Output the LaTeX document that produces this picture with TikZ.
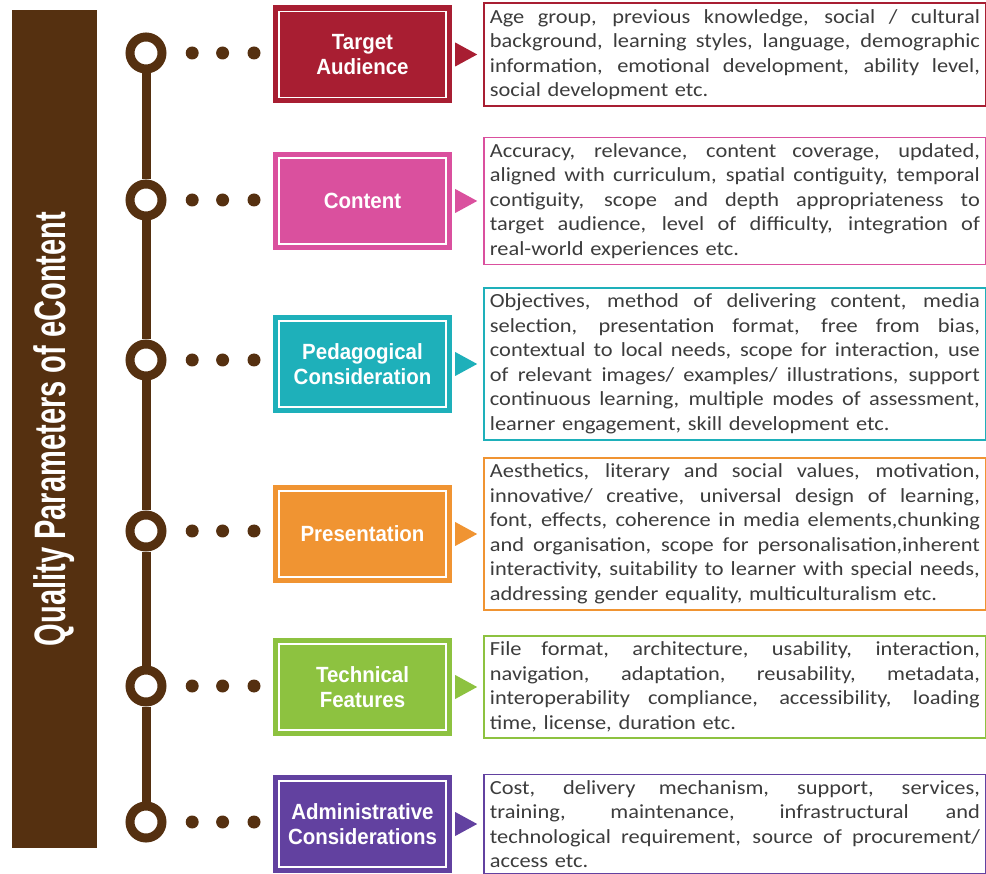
\documentclass[tikz,border=0pt]{standalone}
\usepackage{fontspec}
\setmainfont{Carlito}
\usetikzlibrary{positioning}
\newfontfamily\bodyfont[FakeStretch=1.12]{Carlito}
\newfontfamily\labelfont[FakeStretch=0.93]{Liberation Sans}
\newfontfamily\titlefont[FakeStretch=0.66]{Liberation Sans}
\definecolor{qbrown}{RGB}{85,48,16}
\definecolor{qred}{RGB}{168,30,50}
\definecolor{qpink}{RGB}{218,80,158}
\definecolor{qteal}{RGB}{30,176,186}
\definecolor{qorange}{RGB}{240,148,50}
\definecolor{qgreen}{RGB}{141,194,64}
\definecolor{qpurple}{RGB}{98,65,160}
\definecolor{qtext}{RGB}{60,60,60}
% one justified line, and the last (ragged) line of a description
\newcommand{\fline}[1]{\hbox to\hsize{\spaceskip=\fontdimen2\font plus 1fil\xspaceskip=\spaceskip\relax #1}}
\newcommand{\lline}[1]{\hbox to\hsize{#1\hfil}}
\tikzset{
  ring/.style={circle, draw=qbrown, fill=white, line width=9pt, minimum size=32pt, inner sep=0pt},
  stem/.style={draw=qbrown, line width=9pt},
  dot/.style={circle, fill=qbrown, minimum size=13pt, inner sep=0pt},
  qbox/.style={rectangle, fill=#1, minimum width=179pt, minimum height=98pt, inner sep=0pt,
    text=white, align=center, font=\labelfont\bfseries\fontsize{22}{25}\selectfont,
    path picture={\draw[white, line width=1.3pt]
      ([shift={(6pt,6pt)}]path picture bounding box.south west) rectangle
      ([shift={(-6pt,-6pt)}]path picture bounding box.north east);}},
  desc/.style={rectangle, draw=#1, line width=1.4pt, text width=490pt, inner xsep=6pt, inner ysep=6pt,
    text=qtext, font=\bodyfont\fontsize{20}{24.5}\selectfont, anchor=west}
}
\begin{document}
\begin{tikzpicture}[x=1pt, y=-1pt]
  \useasboundingbox (0,0) rectangle (986,874);

  %%%%% TITLE BAR %%%%%
  \node[fill=qbrown, minimum width=85pt, minimum height=838pt, inner sep=0pt] (bar) at (54.5,429) {};
  \node[rotate=90, text=white, font=\titlefont\bfseries\fontsize{44}{48}\selectfont] (title) at (bar.center)
    {Quality Parameters of eContent};

  %%%%% RINGS AND STEM %%%%%
  \node[ring] (r1) at (146,53) {};
  \node[ring] (r2) at (146,200) {};
  \node[ring] (r3) at (146,360) {};
  \node[ring] (r4) at (146,531) {};
  \node[ring] (r5) at (146,686) {};
  \node[ring] (r6) at (146,822) {};
  \foreach \a/\b in {r1/r2,r2/r3,r3/r4,r4/r5,r5/r6}
    \draw[stem] (\a) -- (\b);
  \foreach \r in {r1,r2,r3,r4,r5,r6}{
    \node[dot, right=19pt of \r] (\r d1) {};
    \node[dot, right=17pt of \r d1] (\r d2) {};
    \node[dot, right=18pt of \r d2] (\r d3) {};
  }

  %%%%% TARGET AUDIENCE %%%%%
  \node[qbox=qred] (ta) at (362.5,54.5) {Target\\Audience};
  \fill[qred] ([xshift=3pt,yshift=12pt]ta.east) -- ([xshift=25pt]ta.east) -- ([xshift=3pt,yshift=-12pt]ta.east) -- cycle;
  \node[desc=qred, right=31pt of ta] (tad) {%
    \fline{Age group, previous knowledge, social / cultural}
    \fline{background, learning styles, language, demographic}
    \fline{information, emotional development, ability level,}
    \lline{social development etc.}};

  %%%%% CONTENT %%%%%
  \node[qbox=qpink] (co) at (362.5,201) {Content};
  \fill[qpink] ([xshift=3pt,yshift=12pt]co.east) -- ([xshift=25pt]co.east) -- ([xshift=3pt,yshift=-12pt]co.east) -- cycle;
  \node[desc=qpink, right=31pt of co] (cod) {%
    \fline{Accuracy, relevance, content coverage, updated,}
    \fline{aligned with curriculum, spatial contiguity, temporal}
    \fline{contiguity, scope and depth appropriateness to}
    \fline{target audience, level of difficulty, integration of}
    \lline{real-world experiences etc.}};

  %%%%% PEDAGOGICAL %%%%%
  \node[qbox=qteal] (pe) at (362.5,364) {Pedagogical\\Consideration};
  \fill[qteal] ([xshift=3pt,yshift=12pt]pe.east) -- ([xshift=25pt]pe.east) -- ([xshift=3pt,yshift=-12pt]pe.east) -- cycle;
  \node[desc=qteal, right=31pt of pe] (ped) {%
    \fline{Objectives, method of delivering content, media}
    \fline{selection, presentation format, free from bias,}
    \fline{contextual to local needs, scope for interaction, use}
    \fline{of relevant images/ examples/ illustrations, support}
    \fline{continuous learning, multiple modes of assessment,}
    \lline{learner engagement, skill development etc.}};

  %%%%% PRESENTATION %%%%%
  \node[qbox=qorange] (pr) at (362.5,534) {Presentation};
  \fill[qorange] ([xshift=3pt,yshift=12pt]pr.east) -- ([xshift=25pt]pr.east) -- ([xshift=3pt,yshift=-12pt]pr.east) -- cycle;
  \node[desc=qorange, right=31pt of pr] (prd) {%
    \fline{Aesthetics, literary and social values, motivation,}
    \fline{innovative/ creative, universal design of learning,}
    \fline{font, effects, coherence in media elements,chunking}
    \fline{and organisation, scope for personalisation,inherent}
    \fline{interactivity, suitability to learner with special needs,}
    \lline{addressing gender equality, multiculturalism etc.}};

  %%%%% TECHNICAL %%%%%
  \node[qbox=qgreen] (te) at (362.5,687) {Technical\\Features};
  \fill[qgreen] ([xshift=3pt,yshift=12pt]te.east) -- ([xshift=25pt]te.east) -- ([xshift=3pt,yshift=-12pt]te.east) -- cycle;
  \node[desc=qgreen, right=31pt of te] (ted) {%
    \fline{File format, architecture, usability, interaction,}
    \fline{navigation, adaptation, reusability, metadata,}
    \fline{interoperability compliance, accessibility, loading}
    \lline{time, license, duration etc.}};

  %%%%% ADMINISTRATIVE %%%%%
  \node[qbox=qpurple] (ad) at (362.5,824) {Administrative\\Considerations};
  \fill[qpurple] ([xshift=3pt,yshift=12pt]ad.east) -- ([xshift=25pt]ad.east) -- ([xshift=3pt,yshift=-12pt]ad.east) -- cycle;
  \node[desc=qpurple, right=31pt of ad] (add) {%
    \fline{Cost, delivery mechanism, support, services,}
    \fline{training, maintenance, infrastructural and}
    \fline{technological requirement, source of procurement/}
    \lline{access etc.}};
\end{tikzpicture}
\end{document}
